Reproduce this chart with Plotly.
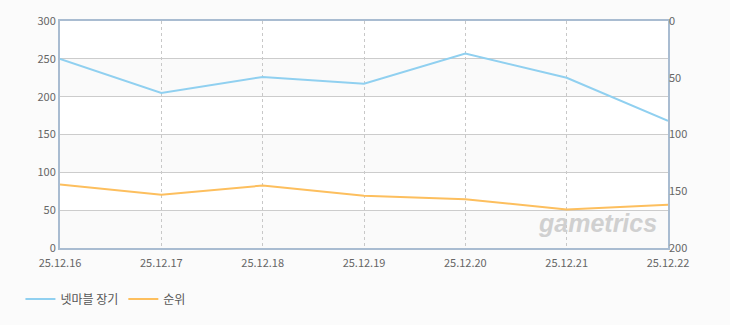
import plotly.graph_objects as go

dates = ["25.12.16", "25.12.17", "25.12.18", "25.12.19", "25.12.20", "25.12.21", "25.12.22"]
users = [250, 205, 226, 217, 257, 225, 168]
rank = [144, 153, 145, 154, 157, 166, 162]
left_ticks = [0, 50, 100, 150, 200, 250, 300]
right_ticks = [0, 50, 100, 150, 200]

FONT = "Noto Sans CJK KR"
BLUE = "#90d0f0"
ORANGE = "#fdbf5e"
FRAME = "#a9bcd1"

fig = go.Figure()
fig.add_trace(go.Scatter(x=dates, y=users, name="넷마블 장기", mode="lines",
                         line=dict(color=BLUE, width=2), yaxis="y"))
fig.add_trace(go.Scatter(x=dates, y=rank, name="순위", mode="lines",
                         line=dict(color=ORANGE, width=2), yaxis="y2"))

# alternating light bands
for i in range(0, 6, 2):
    fig.add_shape(type="rect", xref="paper", yref="y", x0=0, x1=1,
                  y0=left_ticks[i], y1=left_ticks[i + 1],
                  fillcolor="#fafafa", line_width=0, layer="below")

fig.add_annotation(text="gametrics", xref="paper", yref="paper", x=0.985, y=0.04,
                   xanchor="right", yanchor="bottom", showarrow=False,
                   font=dict(family="Liberation Sans", size=25, color="#d0d0d0",
                             style="italic", weight="bold"))

fig.update_layout(
    width=730, height=325,
    margin=dict(l=60, r=62, t=17, b=77),
    paper_bgcolor="#fbfbfb", plot_bgcolor="#ffffff",
    font=dict(family=FONT, size=11, color="#666666"),
    showlegend=True,
    legend=dict(orientation="h", x=0.028, xref="container", y=0.08, yref="container",
                xanchor="left", yanchor="middle",
                font=dict(family=FONT, size=12, color="#555555"),
                itemwidth=30, tracegroupgap=0),
    xaxis=dict(type="category", range=[0, 6], showgrid=True, gridcolor="#c8c8c8",
               griddash="3px,3px", gridwidth=1, showline=True, linecolor=FRAME,
               linewidth=2, mirror=True, ticks="", tickfont=dict(size=11, color="#666666"),
               zeroline=False, ticklabelstandoff=4),
    yaxis=dict(range=[0, 300], tickvals=left_ticks, showgrid=True, gridcolor="#cccccc",
               gridwidth=1, showline=True, linecolor=FRAME, linewidth=2, mirror=True,
               ticks="", zeroline=False, tickfont=dict(size=11, color="#666666")),
    yaxis2=dict(range=[200, 0], tickvals=right_ticks, overlaying="y", side="right",
                showgrid=False, zeroline=False, showline=False, ticks="",
                tickfont=dict(size=11, color="#666666")),
)

fig.write_html("out.html")
